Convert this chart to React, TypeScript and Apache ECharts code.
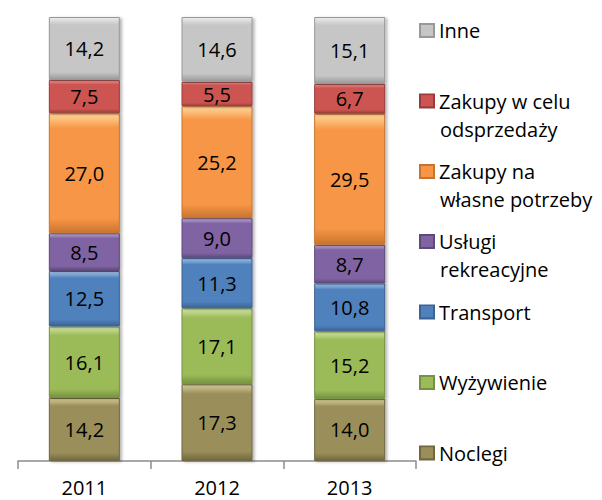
import React, { useEffect, useRef } from "react";
import * as echarts from "echarts";

const categories = ["2011", "2012", "2013"];

const seriesNames = [
  "Noclegi",
  "Wyżywienie",
  "Transport",
  "Usługi rekreacyjne",
  "Zakupy na własne potrzeby",
  "Zakupy w celu odsprzedaży",
  "Inne",
];

const noclegi = [14.2, 17.3, 14.0];
const wyzywienie = [16.1, 17.1, 15.2];
const transport = [12.5, 11.3, 10.8];
const uslugi = [8.5, 9.0, 8.7];
const zakupyWlasne = [27.0, 25.2, 29.5];
const zakupyOdsprzedaz = [7.5, 5.5, 6.7];
const inne = [14.2, 14.6, 15.1];

const seriesValues = [noclegi, wyzywienie, transport, uslugi, zakupyWlasne, zakupyOdsprzedaz, inne];

// legend first / second lines
const legendFirstLines = ["Noclegi", "Wyżywienie", "Transport", "Usługi", "Zakupy na", "Zakupy w celu", "Inne"];
const legendSecondLines = ["", "", "", "rekreacyjne", "własne potrzeby", "odsprzedaży", ""];

// colours: [light, base, dark]
const palette = [
  ["#d8cf9c", "#9a8f5a", "#6f6740"],
  ["#d3e6a6", "#9bbb59", "#76913f"],
  ["#a9c6ec", "#4f81bd", "#3a6394"],
  ["#c6b3e0", "#8064a2", "#5e4a7a"],
  ["#ffd89a", "#f79646", "#c8742f"],
  ["#f4a09e", "#cd5451", "#983c3a"],
  ["#ececec", "#c6c6c6", "#989898"],
];

const legendCenters = [453, 382.5, 312, 241.5, 171.5, 101, 30.5];

const FONT = "'Open Sans', sans-serif";

export default function App() {
  const ref = useRef<HTMLDivElement>(null);

  useEffect(() => {
    if (!ref.current) return;
    const chart = echarts.init(ref.current, undefined, { renderer: "svg" });

    const series = seriesNames.map((name, i) => {
      const [light, base, dark] = palette[i];
      return {
        name,
        type: "bar",
        stack: "total",
        barWidth: 71,
        data: seriesValues[i],
        itemStyle: {
          color: new echarts.graphic.LinearGradient(0, 0, 0, 1, [
            { offset: 0, color: light },
            { offset: 0.12, color: base },
            { offset: 0.88, color: base },
            { offset: 1, color: dark },
          ]),
          borderColor: dark,
          borderWidth: 1,
          shadowColor: "rgba(0,0,0,0.3)",
          shadowBlur: 3,
          shadowOffsetX: 2,
          shadowOffsetY: 1,
        },
        label: {
          show: true,
          position: "inside",
          color: "#000",
          fontFamily: FONT,
          fontSize: 20,
          formatter: (p: any) => Number(p.value).toFixed(1).replace(".", ","),
        },
      };
    });

    const legends = seriesNames.map((name, i) => ({
      data: [name],
      orient: "vertical",
      left: 419,
      top: legendCenters[i] - 10,
      padding: 0,
      itemWidth: 14,
      itemHeight: 13,
      itemGap: 0,
      icon: "rect",
      selectedMode: false,
      formatter: () => legendFirstLines[i],
      textStyle: {
        fontFamily: FONT,
        fontSize: 20,
        lineHeight: 20,
        color: "#000",
        padding: [0, 0, 0, 0],
      },
    }));

    const graphics = legendSecondLines
      .map((t, i) =>
        t
          ? {
              type: "text",
              left: 440,
              top: legendCenters[i] + 28 - 10,
              style: {
                text: t,
                fontFamily: FONT,
                fontSize: 20,
                lineHeight: 20,
                fill: "#000",
              },
            }
          : null
      )
      .filter(Boolean);

    chart.setOption({
      animation: false,
      grid: { left: 18, right: 186, top: 17, bottom: 39 },
      legend: legends,
      graphic: graphics,
      xAxis: {
        type: "category",
        data: categories,
        axisLine: { show: true, lineStyle: { color: "#8c8c8c", width: 1.5 } },
        axisTick: { show: true, length: 8, alignWithLabel: false, lineStyle: { color: "#8c8c8c", width: 1.5 } },
        axisLabel: { color: "#000", fontFamily: FONT, fontSize: 20, margin: 16 },
      },
      yAxis: {
        type: "value",
        min: 0,
        max: 100,
        show: false,
        splitLine: { show: false },
      },
      series,
    });

    return () => chart.dispose();
  }, []);

  return <div ref={ref} style={{ width: 602, height: 500, position: "absolute", left: 0, top: 0 }} />;
}
